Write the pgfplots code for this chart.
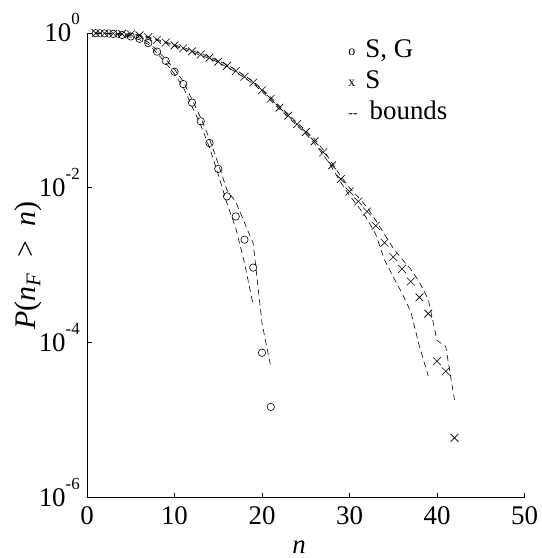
\documentclass[border=0pt]{standalone}
\usepackage{fontspec}
\setmainfont{Liberation Serif}
\usepackage{pgfplots}
\usepackage{pgfplotstable}
\pgfplotsset{compat=1.18}
\newcommand{\tl}[1]{10\raisebox{17bp}[0pt][0pt]{\fontsize{17}{17}\selectfont #1}}
\newcommand{\sym}[1]{\raisebox{2bp}{\fontsize{14}{14}\selectfont #1}}

% series "S, G" (circles): n, P
\pgfplotstableread{
n P
1 0.995
2 0.989
3 0.975
4 0.944
5 0.902
6 0.841
7 0.741
8 0.575
9 0.4365
10 0.316
11 0.219
12 0.126
13 0.0724
14 0.0380
15 0.01758
16 0.00776
17 0.00427
18 0.00214
19 0.000933
20 7.41e-5
21 1.48e-5
}\sgdata
\pgfplotstableread{
n P
1 0.991
2 0.982
3 0.964
4 0.929
5 0.881
6 0.818
7 0.716
8 0.5495
9 0.412
10 0.295
11 0.1995
12 0.1122
13 0.0646
14 0.0331
15 0.01479
16 0.00631
17 0.00302
18 0.001072
19 0.000302
}\sglow
\pgfplotstableread{
n P
1 1.000
2 0.993
3 0.984
4 0.957
5 0.918
6 0.861
7 0.762
8 0.600
9 0.460
10 0.339
11 0.237
12 0.138
13 0.0804
14 0.0427
15 0.0204
16 0.00933
17 0.00661
18 0.00355
19 0.00191
20 1.78e-4
21 4.9e-5
}\sgup
% series "S" (crosses)
\pgfplotstableread{
n P lo up
1 0.995 0.988 1.000
2 0.991 0.984 0.998
3 0.984 0.977 0.991
4 0.975 0.968 0.982
5 0.964 0.957 0.971
6 0.933 0.920 0.946
7 0.881 0.869 0.893
8 0.817 0.806 0.828
9 0.755 0.745 0.765
10 0.692 0.682 0.702
11 0.634 0.620 0.649
12 0.579 0.566 0.592
13 0.528 0.516 0.540
14 0.481 0.470 0.492
15 0.427 0.417 0.437
16 0.376 0.363 0.389
17 0.3236 0.3127 0.3349
18 0.2723 0.2631 0.2818
19 0.2291 0.2213 0.2371
20 0.182 0.1758 0.1884
21 0.1413 0.1349 0.1479
22 0.1086 0.1037 0.1137
23 0.0857 0.0818 0.0897
24 0.0664 0.0634 0.0695
25 0.0524 0.0500 0.0549
26 0.0398 0.0371 0.0427
27 0.02884 0.0269 0.0309
28 0.0195 0.0182 0.0209
29 0.01294 0.0118 0.0142
30 0.00897 0.00794 0.0100
31 0.00667 0.00575 0.00759
32 0.00494 0.00398 0.00562
33 0.00324 0.00251 0.0038
34 0.00195 0.001175 0.00251
35 0.001276 0.000708 0.00166
36 0.000893 0.000437 0.0012
37 0.000617 0.000251 0.000891
38 0.000385 8.91e-5 0.000603
39 0.000237 3.72e-5 0.000363
40 5.75e-5 nan 1.07e-4
41 4.27e-5 nan 8.91e-5
42 5.89e-6 nan 1.82e-5
}\sdata

\begin{document}
\begin{tikzpicture}
\path[use as bounding box] (-87bp,-60.5bp) rectangle (455bp,497.5bp);
\begin{axis}[
  scale only axis, width=437.5bp, height=464.5bp,
  at={(0,0)}, anchor=south west,
  xmin=0, xmax=50, ymode=log, ymin=1e-6, ymax=1,
  axis x line=bottom, axis y line=left,
  axis line style={-, line width=0.8bp, black},
  tick align=inside, major tick length=5bp,
  tick style={line width=0.8bp, black},
  xtick={0,10,20,30,40,50},
  ytick={1e-6,1e-4,1e-2,1},
  yminorticks=false, xminorticks=false,
  yticklabels={\tl{-6},\tl{-4},\tl{-2},\tl{0}},
  tick label style={font=\fontsize{27}{27}\selectfont},
  /pgf/number format/assume math mode=true,
  xticklabel style={inner sep=0pt, anchor=north, yshift=-9bp},
  yticklabel style={inner sep=0pt, anchor=east, xshift=-7bp},
  xlabel={\textit{n}},
  ylabel={\textit{P}(\textit{n}\textsubscript{\textit{F}}\hspace{0.5em}>\hspace{0.5em}\textit{n})},
  xlabel style={font=\fontsize{27}{27}\selectfont, at={(axis description cs:0.485,-0.12)}, anchor=base},
  ylabel style={font=\fontsize{30}{30}\selectfont, at={(axis description cs:-0.135,0.5)}, anchor=center},
  clip=false,
  legend style={draw=none, fill=none, at={(rel axis cs:0.597,0.989)}, anchor=north west,
    inner sep=0pt, font=\fontsize{27}{27}\selectfont, row sep=6bp,
    nodes={inner sep=0pt, text height=19bp, text depth=6bp},
    cells={anchor=west}},
  legend image code/.code={},
]
\addplot[forget plot, black, line width=0.6bp, dash pattern=on 6bp off 4bp] table[x=n,y=P] {\sglow};
\addplot[forget plot, black, line width=0.6bp, dash pattern=on 6bp off 4bp] table[x=n,y=P] {\sgup};
\addplot[forget plot, black, line width=0.6bp, dash pattern=on 6bp off 4bp, unbounded coords=jump] table[x=n,y=lo] {\sdata};
\addplot[forget plot, black, line width=0.6bp, dash pattern=on 6bp off 4bp] table[x=n,y=up] {\sdata};
\addplot[forget plot, only marks, black, mark=o, mark size=3.7bp, mark options={line width=0.6bp}] table[x=n,y=P] {\sgdata};
\addplot[forget plot, only marks, black, mark=x, mark size=5.5bp, mark options={line width=0.6bp}] table[x=n,y=P] {\sdata};
\addlegendimage{legend image code/.code={}}
\addlegendentry{\sym{o}\hspace{10bp}S, G}
\addlegendimage{legend image code/.code={}}
\addlegendentry{\sym{x}\hspace{10bp}S}
\addlegendimage{legend image code/.code={}}
\addlegendentry{\sym{-{}-}\hspace{12bp}bounds}
\end{axis}
\end{tikzpicture}
\end{document}
